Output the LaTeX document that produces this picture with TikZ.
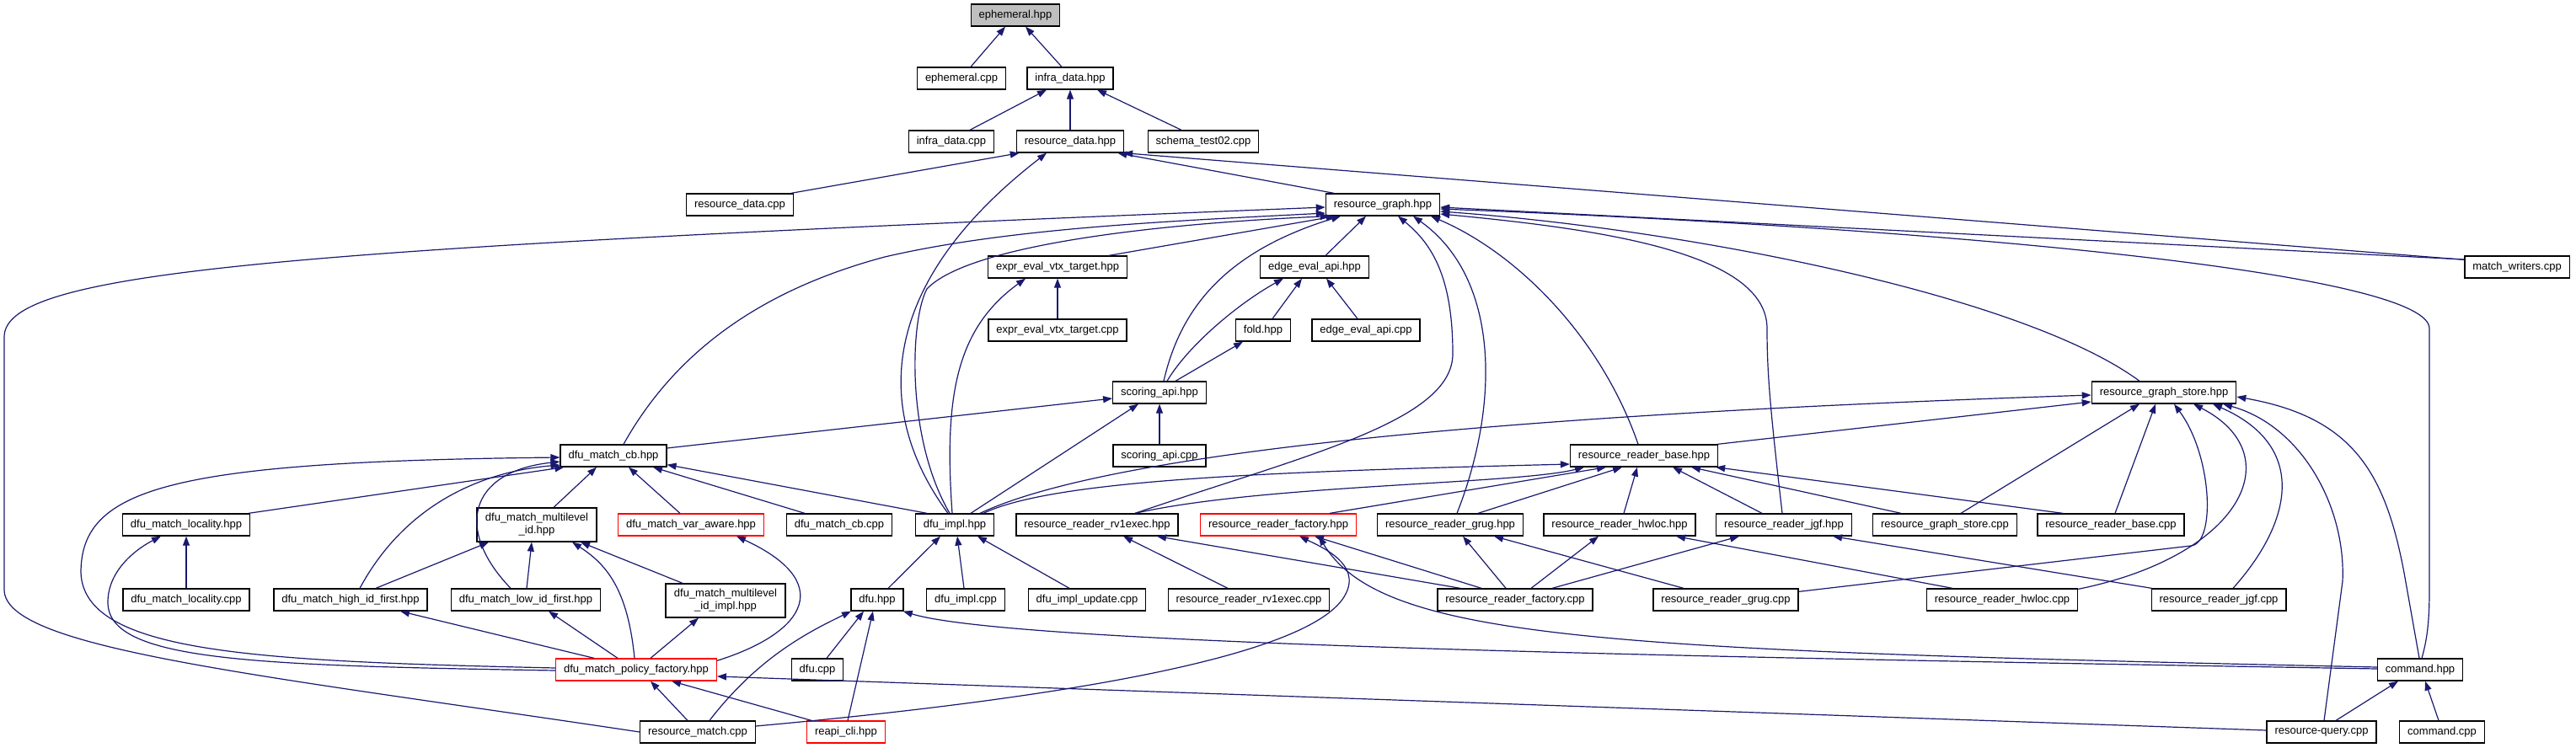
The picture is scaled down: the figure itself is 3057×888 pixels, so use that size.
\documentclass[tikz,border=0pt]{standalone}
\usepackage{fontspec}
\setmainfont{Liberation Sans}
\usepackage{tikz}
\usetikzlibrary{
  arrows.meta   % Triangle 箭头
}

\definecolor{edgenavy}{RGB}{25,25,112}
\definecolor{rootgray}{RGB}{191,191,191}
\definecolor{cutred}{RGB}{255,0,0}

\begin{document}
\begin{tikzpicture}[>={Triangle[length=11pt,width=8pt]}, x=1pt, y=-1pt,
  file/.style={draw=black, line width=1.3pt, fill=white, minimum height=26pt,
    inner xsep=9.4pt, inner ysep=0pt, font=\fontsize{13}{15}\selectfont},
  filecut/.style={file, draw=cutred},
  fileroot/.style={file, fill=rootgray},
  filetwo/.style={file, align=center, text width=123pt, minimum height=40pt},
  inc/.style={->, draw=edgenavy, line width=1.2pt}]

  % 画布范围（与原图同比例）
  \fill[white] (0,0) rectangle (3057,888);

  % =============== 第 0--3 层：头文件顶部 ===============
  \node[fileroot] (eph_hpp) at (1205,18) {ephemeral.hpp};
  \node[file] (eph_cpp) at (1141,93) {ephemeral.cpp};
  \node[file] (infra_hpp) at (1270,93) {infra\_data.hpp};
  \node[file] (infra_cpp) at (1129,168) {infra\_data.cpp};
  \node[file] (rdata_hpp) at (1270,168) {resource\_data.hpp};
  \node[file] (schema_cpp) at (1428,168) {schema\_test02.cpp};
  \node[file] (rdata_cpp) at (878,243) {resource\_data.cpp};
  \node[file] (rgraph_hpp) at (1641,243) {resource\_graph.hpp};

  % =============== 第 4--7 层 ===============
  \node[file] (expr_hpp) at (1255,317) {expr\_eval\_vtx\_target.hpp};
  \node[file] (edge_hpp) at (1560,317) {edge\_eval\_api.hpp};
  \node[file] (mwriters_cpp) at (2987,317) {match\_writers.cpp};
  \node[file] (expr_cpp) at (1255,392) {expr\_eval\_vtx\_target.cpp};
  \node[file] (fold_hpp) at (1499,392) {fold.hpp};
  \node[file] (edge_cpp) at (1621,392) {edge\_eval\_api.cpp};
  \node[file] (scoring_hpp) at (1376,466) {scoring\_api.hpp};
  \node[file] (rgstore_hpp) at (2568,466) {resource\_graph\_store.hpp};
  \node[file] (dfucb_hpp) at (728,541) {dfu\_match\_cb.hpp};
  \node[file] (scoring_cpp) at (1376,541) {scoring\_api.cpp};
  \node[file] (rrbase_hpp) at (1951,541) {resource\_reader\_base.hpp};

  % =============== 第 8 层 ===============
  \node[file] (locality_hpp) at (221,623) {dfu\_match\_locality.hpp};
  \node[filetwo] (multilevel_hpp) at (637,623) {dfu\_match\_multilevel\\\_id.hpp};
  \node[filecut] (varaware_hpp) at (820,623) {dfu\_match\_var\_aware.hpp};
  \node[file] (dfucb_cpp) at (996,623) {dfu\_match\_cb.cpp};
  \node[file] (dfuimpl_hpp) at (1133,623) {dfu\_impl.hpp};
  \node[file] (rv1exec_hpp) at (1302,623) {resource\_reader\_rv1exec.hpp};
  \node[filecut] (rrfactory_hpp) at (1517,623) {resource\_reader\_factory.hpp};
  \node[file] (rrgrug_hpp) at (1721,623) {resource\_reader\_grug.hpp};
  \node[file] (rrhwloc_hpp) at (1922,623) {resource\_reader\_hwloc.hpp};
  \node[file] (rrjgf_hpp) at (2117,623) {resource\_reader\_jgf.hpp};
  \node[file] (rgstore_cpp) at (2308,623) {resource\_graph\_store.cpp};
  \node[file] (rrbase_cpp) at (2505,623) {resource\_reader\_base.cpp};

  % =============== 第 9 层 ===============
  \node[file] (locality_cpp) at (221,712) {dfu\_match\_locality.cpp};
  \node[file] (highid_hpp) at (416,712) {dfu\_match\_high\_id\_first.hpp};
  \node[file] (lowid_hpp) at (624,712) {dfu\_match\_low\_id\_first.hpp};
  \node[filetwo] (mlimpl_hpp) at (861,713) {dfu\_match\_multilevel\\\_id\_impl.hpp};
  \node[file] (dfu_hpp) at (1041,712) {dfu.hpp};
  \node[file] (dfuimpl_cpp) at (1146,712) {dfu\_impl.cpp};
  \node[file] (dfuimplupd_cpp) at (1290,712) {dfu\_impl\_update.cpp};
  \node[file] (rv1exec_cpp) at (1482,712) {resource\_reader\_rv1exec.cpp};
  \node[file] (rrfactory_cpp) at (1798,712) {resource\_reader\_factory.cpp};
  \node[file] (rrgrug_cpp) at (2048,712) {resource\_reader\_grug.cpp};
  \node[file] (rrhwloc_cpp) at (2376,712) {resource\_reader\_hwloc.cpp};
  \node[file] (rrjgf_cpp) at (2633,712) {resource\_reader\_jgf.cpp};

  % =============== 第 10--11 层 ===============
  \node[filecut] (policy_hpp) at (755,795) {dfu\_match\_policy\_factory.hpp};
  \node[file] (dfu_cpp) at (970,795) {dfu.cpp};
  \node[file] (command_hpp) at (2872,795) {command.hpp};
  \node[file] (rmatch_cpp) at (828,869) {resource\_match.cpp};
  \node[filecut] (reapi_hpp) at (1004,869) {reapi\_cli.hpp};
  \node[file] (rquery_cpp) at (2755,869) {resource-query.cpp};
  \node[file] (command_cpp) at (2898,869) {command.cpp};

  % =============== 包含关系：ephemeral / infra_data / resource_data ===============
  \draw[inc] ([xshift=11pt]eph_cpp.north) -- ([xshift=-12pt]eph_hpp.south);
  \draw[inc] ([xshift=-10pt]infra_hpp.north) -- ([xshift=12pt]eph_hpp.south);
  \draw[inc] ([xshift=22pt]infra_cpp.north) -- ([xshift=-28pt]infra_hpp.south);
  \draw[inc] (rdata_hpp.north) -- (infra_hpp.south);
  \draw[inc] ([xshift=-26pt]schema_cpp.north) -- ([xshift=32pt]infra_hpp.south);
  \draw[inc] ([xshift=-3pt]rdata_cpp.north east) -- ([xshift=4pt]rdata_hpp.south west);
  \draw[inc] ([xshift=-58pt]rgraph_hpp.north) -- ([xshift=-8pt]rdata_hpp.south east);
  \draw[inc] ([yshift=-5pt]mwriters_cpp.north west) -- ([xshift=-1pt]rdata_hpp.south east);
  \draw[inc] ([xshift=-8pt]dfuimpl_hpp.north) .. controls (1030,480) and (1050,330) .. ([xshift=-28pt]rdata_hpp.south);

  % =============== 包含关系：resource_graph.hpp ===============
  \draw[inc] ([xshift=61pt]expr_hpp.north) -- ([xshift=12pt]rgraph_hpp.south west);
  \draw[inc] ([xshift=13pt]edge_hpp.north) -- ([xshift=-20pt]rgraph_hpp.south);
  \draw[inc] ([yshift=9pt]mwriters_cpp.west) -- ([yshift=-3pt]rgraph_hpp.east);
  \draw[inc] ([xshift=5pt]scoring_hpp.north) .. controls (1400,370) and (1450,300) .. ([xshift=-50pt]rgraph_hpp.south);
  \draw[inc] ([xshift=-29pt]rgstore_hpp.north) .. controls (2400,350) and (2000,272) .. ([yshift=-8pt]rgraph_hpp.east);
  \draw[inc] ([xshift=12pt]dfucb_hpp.north) .. controls (800,420) and (900,345) .. (1050,305)
    .. controls (1200,270) and (1400,262) .. ([yshift=-10pt]rgraph_hpp.west);
  \draw[inc] ([xshift=-6pt]dfuimpl_hpp.north) .. controls (1075,520) and (1080,380) .. (1100,343)
    .. controls (1150,290) and (1380,265) .. ([xshift=5pt]rgraph_hpp.south west);
  \draw[inc] ([xshift=-7pt]rrbase_hpp.north) .. controls (1900,400) and (1800,300) .. ([xshift=57pt]rgraph_hpp.south);
  \draw[inc] ([xshift=45pt]rv1exec_hpp.north) .. controls (1550,540) and (1724,500) .. (1724,420)
    .. controls (1724,330) and (1700,290) .. ([xshift=18pt]rgraph_hpp.south);
  \draw[inc] ([xshift=8pt]rrgrug_hpp.north) .. controls (1780,480) and (1780,330) .. ([xshift=36pt]rgraph_hpp.south);
  \draw[inc] ([xshift=-2pt]rrjgf_hpp.north) .. controls (2100,480) and (2097,440) .. (2097,390)
    .. controls (2097,300) and (1900,272) .. ([yshift=-11pt]rgraph_hpp.east);
  \draw[inc] ([xshift=2pt]command_hpp.north) .. controls (2880,760) and (2883,740) .. (2883,700) -- (2883,390)
    .. controls (2883,330) and (2400,275) .. ([yshift=-5pt]rgraph_hpp.east);
  \draw[inc] (rmatch_cpp.west) .. controls (300,800) and (5,770) .. (5,700) -- (5,400)
    .. controls (5,320) and (350,295) .. ([yshift=-3pt]rgraph_hpp.west);

  % =============== 包含关系：expr / edge / fold / scoring ===============
  \draw[inc] (expr_cpp.north) -- (expr_hpp.south);
  \draw[inc] ([xshift=-3pt]dfuimpl_hpp.north) .. controls (1120,470) and (1135,390) .. ([xshift=-38pt]expr_hpp.south);
  \draw[inc] ([xshift=11pt]fold_hpp.north) -- ([xshift=-15pt]edge_hpp.south);
  \draw[inc] ([xshift=-10pt]edge_cpp.north) -- ([xshift=14pt]edge_hpp.south);
  \draw[inc] ([xshift=9pt]scoring_hpp.north) .. controls (1410,410) and (1470,360) .. ([xshift=-37pt]edge_hpp.south);
  \draw[inc] ([xshift=19pt]scoring_hpp.north) -- ([xshift=-24pt]fold_hpp.south);
  \draw[inc] (scoring_cpp.north) -- (scoring_hpp.south);
  \draw[inc] ([yshift=9pt]dfucb_hpp.east) -- ([yshift=-7pt]scoring_hpp.west);
  \draw[inc] ([xshift=19pt]dfuimpl_hpp.north) -- ([xshift=-25pt]scoring_hpp.south);

  % =============== 包含关系：resource_graph_store.hpp ===============
  \draw[inc] ([xshift=-1pt]rrbase_hpp.north east) -- ([yshift=-11pt]rgstore_hpp.west);
  \draw[inc] ([xshift=30pt]dfuimpl_hpp.north) .. controls (1300,545) and (1700,495) .. ([yshift=-3pt]rgstore_hpp.west);
  \draw[inc] ([xshift=19pt]rgstore_cpp.north) -- ([xshift=-29pt]rgstore_hpp.south);
  \draw[inc] ([xshift=5pt]rrbase_cpp.north) -- ([xshift=-10pt]rgstore_hpp.south);
  \draw[inc] ([yshift=-4pt]rrgrug_cpp.north east) -- (2600,648) .. controls (2630,645) and (2625,540) .. ([xshift=12pt]rgstore_hpp.south);
  \draw[inc] ([yshift=-1pt]rrhwloc_cpp.north east) .. controls (2660,660) and (2720,540) .. ([xshift=35pt]rgstore_hpp.south);
  \draw[inc] ([xshift=17pt]rrjgf_cpp.north) .. controls (2720,620) and (2740,530) .. ([xshift=58pt]rgstore_hpp.south);
  \draw[inc] ([xshift=3pt]rquery_cpp.north) -- (2780,690) .. controls (2784,600) and (2730,505) .. ([xshift=70pt]rgstore_hpp.south);
  \draw[inc] ([xshift=-1pt]command_hpp.north) -- (2853,680) .. controls (2830,558) and (2790,495) .. ([yshift=-5pt]rgstore_hpp.east);
  \draw[inc] ([xshift=17pt]rquery_cpp.north) -- ([xshift=-26pt]command_hpp.south);
  \draw[inc] ([xshift=-4pt]command_cpp.north) -- ([xshift=6pt]command_hpp.south);

  % =============== 包含关系：dfu_match_cb.hpp 及匹配策略 ===============
  \draw[inc] ([xshift=-2pt]locality_hpp.north east) -- ([xshift=5pt]dfucb_hpp.south west);
  \draw[inc] ([xshift=20pt]multilevel_hpp.north) -- ([xshift=-20pt]dfucb_hpp.south);
  \draw[inc] ([xshift=-13pt]varaware_hpp.north) -- ([xshift=18pt]dfucb_hpp.south);
  \draw[inc] ([xshift=-41pt]dfucb_cpp.north) -- ([xshift=47pt]dfucb_hpp.south);
  \draw[inc] ([xshift=-33pt]dfuimpl_hpp.north) -- ([yshift=3pt]dfucb_hpp.south east);
  \draw[inc] ([xshift=11pt]highid_hpp.north) .. controls (480,600) and (570,560) .. ([yshift=-11pt]dfucb_hpp.west);
  \draw[inc] ([xshift=-18pt]lowid_hpp.north) .. controls (540,630) and (555,560) .. ([yshift=-7pt]dfucb_hpp.west);
  \draw[inc] ([yshift=2pt]policy_hpp.west) .. controls (300,785) and (100,775) .. (96,680)
    .. controls (96,580) and (200,548) .. ([yshift=-2pt]dfucb_hpp.west);
  \draw[inc] ([yshift=-1pt]policy_hpp.west) .. controls (300,790) and (128,785) .. (128,715)
    .. controls (128,675) and (165,650) .. ([xshift=-30pt]locality_hpp.south);
  \draw[inc] (locality_cpp.north) -- (locality_hpp.south);
  \draw[inc] ([xshift=-2pt]policy_hpp.north) .. controls (745,700) and (720,670) .. ([xshift=42pt]multilevel_hpp.south);
  \draw[inc] ([xshift=-50pt]policy_hpp.north) -- ([xshift=59pt]highid_hpp.south);
  \draw[inc] ([xshift=-22pt]policy_hpp.north) -- ([xshift=27pt]lowid_hpp.south);
  \draw[inc] ([xshift=17pt]policy_hpp.north) -- ([xshift=-32pt]mlimpl_hpp.south);
  \draw[inc] ([yshift=-3pt]policy_hpp.north east) .. controls (960,750) and (990,690) .. ([xshift=54pt]varaware_hpp.south);
  \draw[inc] ([xshift=30pt]highid_hpp.north) -- ([xshift=-57pt]multilevel_hpp.south);
  \draw[inc] ([xshift=1pt]lowid_hpp.north) -- ([xshift=-6pt]multilevel_hpp.south);
  \draw[inc] ([xshift=-51pt]mlimpl_hpp.north) -- ([xshift=52pt]multilevel_hpp.south);
  \draw[inc] ([xshift=-12pt]rmatch_cpp.north) -- ([xshift=17pt]policy_hpp.south);
  \draw[inc] ([xshift=-41pt]reapi_hpp.north) -- ([xshift=42pt]policy_hpp.south);
  \draw[inc] ([yshift=2pt]rquery_cpp.west) -- ([yshift=-8pt]policy_hpp.east);

  % =============== 包含关系：dfu.hpp / dfu_impl.hpp ===============
  \draw[inc] ([xshift=14pt]rmatch_cpp.north) .. controls (900,780) and (960,750) .. ([xshift=-31pt]dfu_hpp.south);
  \draw[inc] ([xshift=11pt]dfu_cpp.north) -- ([xshift=-16pt]dfu_hpp.south);
  \draw[inc] ([xshift=2pt]reapi_hpp.north) -- ([xshift=-5pt]dfu_hpp.south);
  \draw[inc] ([yshift=1pt]command_hpp.west) .. controls (2000,780) and (1200,765) .. ([xshift=-1pt]dfu_hpp.south east);
  \draw[inc] ([xshift=-2pt]dfuimpl_cpp.north) -- ([xshift=3pt]dfuimpl_hpp.south);
  \draw[inc] ([xshift=13pt]dfu_hpp.north) -- ([xshift=-17pt]dfuimpl_hpp.south);
  \draw[inc] ([xshift=-21pt]dfuimplupd_cpp.north) -- ([xshift=27pt]dfuimpl_hpp.south);

  % =============== 包含关系：各 resource_reader 头文件 ===============
  \draw[inc] ([xshift=-25pt]rv1exec_cpp.north) -- ([xshift=31pt]rv1exec_hpp.south);
  \draw[inc] ([xshift=-65pt]rrfactory_cpp.north) -- ([xshift=71pt]rv1exec_hpp.south);
  \draw[inc] ([xshift=-40pt]rrfactory_cpp.north) -- ([xshift=43pt]rrfactory_hpp.south);
  \draw[inc] ([yshift=7pt]rmatch_cpp.east) .. controls (1250,830) and (1560,780) .. (1597,705)
    .. controls (1615,670) and (1570,650) .. ([xshift=25pt]rrfactory_hpp.south);
  \draw[inc] ([yshift=3pt]command_hpp.west) .. controls (1900,772) and (1640,760) .. ([xshift=48pt]rrfactory_hpp.south);
  \draw[inc] ([xshift=-11pt]rrfactory_cpp.north) -- ([xshift=15pt]rrgrug_hpp.south);
  \draw[inc] ([xshift=19pt]rrfactory_cpp.north) -- ([xshift=-25pt]rrhwloc_hpp.south);
  \draw[inc] ([xshift=44pt]rrfactory_cpp.north) -- ([xshift=-53pt]rrjgf_hpp.south);
  \draw[inc] ([xshift=-50pt]rrgrug_cpp.north) -- ([xshift=52pt]rrgrug_hpp.south);
  \draw[inc] ([xshift=-59pt]rrhwloc_cpp.north) -- ([xshift=67pt]rrhwloc_hpp.south);
  \draw[inc] ([xshift=1pt]rrjgf_cpp.north west) -- ([xshift=58pt]rrjgf_hpp.south);

  % =============== 包含关系：resource_reader_base.hpp ===============
  \draw[inc] ([xshift=34pt]dfuimpl_hpp.north) .. controls (1250,570) and (1500,560) .. ([yshift=-10pt]rrbase_hpp.west);
  \draw[inc] ([xshift=45pt]rv1exec_hpp.north) .. controls (1500,575) and (1800,575) .. ([xshift=-71pt]rrbase_hpp.south);
  \draw[inc] ([xshift=61pt]rrfactory_hpp.north) -- ([xshift=-45pt]rrbase_hpp.south);
  \draw[inc] ([xshift=33pt]rrgrug_hpp.north) -- ([xshift=-26pt]rrbase_hpp.south);
  \draw[inc] ([xshift=5pt]rrhwloc_hpp.north) -- ([xshift=-8pt]rrbase_hpp.south);
  \draw[inc] ([xshift=-26pt]rrjgf_hpp.north) -- ([xshift=34pt]rrbase_hpp.south);
  \draw[inc] ([xshift=-52pt]rgstore_cpp.north) -- ([xshift=56pt]rrbase_hpp.south);
  \draw[inc] ([xshift=-57pt]rrbase_cpp.north) -- ([xshift=-3pt]rrbase_hpp.south east);

\end{tikzpicture}
\end{document}
